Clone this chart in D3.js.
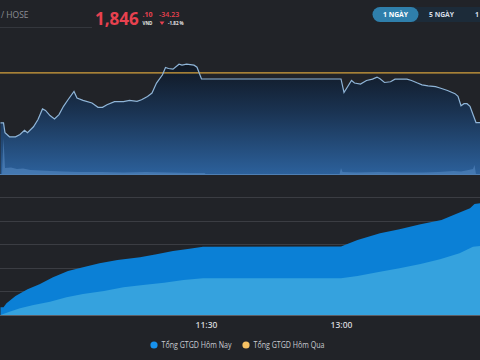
<!DOCTYPE html>
<html><head><meta charset="utf-8">
<script src="https://cdn.jsdelivr.net/npm/d3@7"></script>
<style>
html,body{margin:0;padding:0;background:#212328;}
svg{display:block;font-family:"Open Sans","Noto Sans",sans-serif;}
</style></head>
<body>
<svg id="chart" width="480" height="360"></svg>
<script>
// ---------- DATA ----------
const exchange = "/ HOSE";
const lastPrice = "1,846";
const lastDecimals = ".10";
const currency = "VND";
const changeText = "-34.23";
const changePctText = "-1.82 %";
const prevClose = 1880.33;
const rangeButtons = ["1 NGÀY", "5 NGÀY", "1 THÁNG"];
const timeTicks = ["11:30", "13:00"];
const legendLabels = ["Tổng GTGD Hôm Nay", "Tổng GTGD Hôm Qua"];

const priceTimes = ["09:13","09:15","09:16","09:19","09:23","09:26","09:29","09:31","09:35","09:38","09:41","09:43","09:46","09:49","09:52","09:55","09:58","10:02","10:04","10:08","10:14","10:18","10:21","10:24","10:29","10:35","10:39","10:44","10:47","10:51","10:54","10:57","11:01","11:03","11:05","11:08","11:12","11:14","11:17","11:22","11:24","11:27","11:30","13:00","13:02","13:07","13:09","13:13","13:17","13:21","13:24","13:26","13:29","13:33","13:36","13:44","13:47","13:51","13:54","13:58","14:03","14:06","14:11","14:16","14:18","14:20","14:22","14:24","14:26","14:28","14:30","14:33"];
const priceValues = [1845.9,1845.9,1839.1,1836.3,1836.3,1837.9,1840.8,1839.1,1843.2,1848.2,1855.5,1854.5,1850.9,1848.6,1851.6,1857.3,1861.8,1867.5,1863.0,1861.4,1859.6,1856.6,1856.6,1858.4,1860.5,1860.5,1861.4,1860.7,1861.8,1864.1,1866.4,1873.3,1879.0,1884.0,1883.3,1882.9,1886.3,1885.6,1886.3,1885.6,1884.2,1876.2,1876.1,1876.1,1866.8,1875.1,1873.3,1872.6,1875.1,1876.0,1877.4,1876.2,1873.7,1874.2,1876.0,1876.0,1875.1,1873.3,1872.1,1871.4,1870.8,1869.9,1868.2,1866.0,1864.1,1857.7,1859.1,1859.1,1857.3,1851.6,1846.1,1846.1];

const volumeTimes = ["09:13","09:14","09:15","09:16","09:20","09:24","09:28","09:33","09:40","09:47","09:55","10:05","10:20","10:35","10:50","11:05","11:20","11:29","11:30","12:59","13:00","13:01","13:10","13:25","13:40","13:55","14:05","14:15","14:20","14:25","14:28","14:29","14:30","14:33"];
const volumeValues = [0.8,0.8,37,7,7.5,6,6.5,5,4.5,4,3.5,3,3,2.5,3,2.5,2,2,0.8,0.8,7,3,2.5,3,2.5,2.5,3,4,3.5,5,6,10,0.8,0.8];

const homNayTimes = ["09:13","09:15","09:17","09:23","09:31","09:39","09:48","09:58","10:08","10:19","10:31","10:46","10:57","11:08","11:19","11:28","11:30","13:00","13:11","13:26","13:39","13:53","14:07","14:15","14:26","14:29","14:33"];
const homNayValues = [1630,1630,2480,4030,5450,6500,7990,9320,10110,10950,11650,12220,12860,13560,14050,14470,14470,14500,15890,17310,18160,19220,20130,21190,22610,23520,23670];

const phanTimes = ["09:13","09:19","09:26","09:35","09:46","09:57","10:08","10:22","10:35","10:48","11:02","11:15","11:28","11:30","13:00","13:11","13:26","13:39","13:53","14:06","14:19","14:28","14:33"];
const phanValues = [0,700,1420,2120,2820,3750,4450,5090,5870,6360,6840,7420,7780,7780,7780,8260,9170,9890,10810,11800,13070,14470,14620];

const gridValues = [5000, 10000, 15000, 20000, 25000];

// ---------- HELPERS ----------
const parseT = d3.timeParse("%H:%M");
const svg = d3.select("#chart");
const W = 480;

const x = d3.scaleTime()
  .domain([new Date(1900,0,1,9,12,40), new Date(1900,0,1,14,32,40)])
  .range([0, W]);

const yPrice = d3.scaleLinear().domain([1810, 1890]).range([175, 58.8]);
const yVol = d3.scaleLinear().domain([0, 40]).range([175, 135]);
const yVal = d3.scaleLinear().domain([0, 25000]).range([315, 197]);

// ---------- HEADER ----------
svg.append("text").attr("x", 1).attr("y", 18).attr("fill", "#8b8e95")
  .attr("font-size", 8.5).text(exchange);
svg.append("line").attr("x1", 0).attr("x2", 92).attr("y1", 27.5).attr("y2", 27.5)
  .attr("stroke", "#34373d").attr("stroke-width", 1);

svg.append("text").attr("x", 95).attr("y", 25).attr("fill", "#e8414f")
  .attr("font-size", 17).attr("font-weight", 700).text(lastPrice);
svg.append("text").attr("x", 142.5).attr("y", 17).attr("fill", "#e8414f")
  .attr("font-size", 7).attr("font-weight", 700).text(lastDecimals);
svg.append("text").attr("x", 142.5).attr("y", 24.5).attr("fill", "#e6e6e6")
  .attr("font-size", 4.5).attr("font-weight", 700).text(currency);
svg.append("text").attr("x", 159).attr("y", 17).attr("fill", "#e8414f")
  .attr("font-size", 7).attr("font-weight", 600).text(changeText);
svg.append("path").attr("d", "M159.5,21.5 L164.5,21.5 L162,25 Z").attr("fill", "#e8414f");
svg.append("text").attr("x", 168).attr("y", 25).attr("fill", "#e6e6e6")
  .attr("font-size", 4.5).attr("font-weight", 700).text(changePctText);

// range buttons
svg.append("rect").attr("x", 372.5).attr("y", 7).attr("width", 130).attr("height", 15)
  .attr("rx", 7.5).attr("fill", "#1c2b39");
svg.append("rect").attr("x", 372.5).attr("y", 7).attr("width", 46).attr("height", 15)
  .attr("rx", 7.5).attr("fill", "#2f7fab");
const btnX = [395.5, 441.5, 490];
rangeButtons.forEach((t, i) => {
  svg.append("text").attr("x", btnX[i]).attr("y", 17.3).attr("text-anchor", "middle")
    .attr("fill", i === 0 ? "#ffffff" : "#d6dde6").attr("font-size", 6.8)
    .attr("font-weight", 700).text(t);
});

// ---------- PRICE CHART ----------
const defs = svg.append("defs");
const grad = defs.append("linearGradient").attr("id", "pg")
  .attr("gradientUnits", "userSpaceOnUse").attr("x1", 0).attr("x2", 0).attr("y1", 60).attr("y2", 175);
grad.append("stop").attr("offset", 0).attr("stop-color", "#0f151e");
grad.append("stop").attr("offset", 0.45).attr("stop-color", "#1a3352");
grad.append("stop").attr("offset", 1).attr("stop-color", "#2c619c");

const priceData = priceTimes.map((t, i) => ({ t: parseT(t), v: priceValues[i] }));
svg.append("path").datum(priceData)
  .attr("d", d3.area().x(d => x(d.t)).y0(175).y1(d => yPrice(d.v)))
  .attr("fill", "url(#pg)");

const volData = volumeTimes.map((t, i) => ({ t: parseT(t), v: volumeValues[i] }));
svg.append("path").datum(volData)
  .attr("d", d3.area().x(d => x(d.t)).y0(yVol(0)).y1(d => yVol(d.v)))
  .attr("fill", "#5a8cc4").attr("fill-opacity", 0.55);
svg.append("line").attr("x1", 0).attr("x2", W).attr("y1", 174.5).attr("y2", 174.5)
  .attr("stroke", "#4f7fb3").attr("stroke-width", 1);

svg.append("line").attr("x1", 0).attr("x2", W)
  .attr("y1", yPrice(prevClose)).attr("y2", yPrice(prevClose))
  .attr("stroke", "#d5a23d").attr("stroke-width", 1.3);

svg.append("path").datum(priceData)
  .attr("d", d3.line().x(d => x(d.t)).y(d => yPrice(d.v)))
  .attr("fill", "none").attr("stroke", "#8fb5d8").attr("stroke-width", 1.2);

// ---------- VALUE CHART ----------
svg.append("g").selectAll("line").data(gridValues).join("line")
  .attr("x1", 0).attr("x2", W)
  .attr("y1", d => Math.round(yVal(d)) + 0.5).attr("y2", d => Math.round(yVal(d)) + 0.5)
  .attr("stroke", "#3b3d43").attr("stroke-width", 1);

const homNay = homNayTimes.map((t, i) => ({ t: parseT(t), v: homNayValues[i] }));
const phan = phanTimes.map((t, i) => ({ t: parseT(t), v: phanValues[i] }));
const valArea = d3.area().x(d => x(d.t)).y0(yVal(0)).y1(d => yVal(d.v));
svg.append("path").datum(homNay).attr("d", valArea).attr("fill", "#0b80d6");
svg.append("path").datum(phan).attr("d", valArea).attr("fill", "#35a2de");

svg.append("line").attr("x1", 0).attr("x2", W).attr("y1", 315.5).attr("y2", 315.5)
  .attr("stroke", "#5b5e66").attr("stroke-width", 1);

// x axis
const xAxis = d3.axisBottom(x)
  .tickValues(timeTicks.map(parseT))
  .tickFormat(d3.timeFormat("%H:%M"))
  .tickSize(0).tickPadding(7);
const gx = svg.append("g").attr("transform", "translate(0,315)").call(xAxis);
gx.select(".domain").remove();
gx.selectAll("text").attr("fill", "#d2d4d8").attr("font-size", 8.5)
  .attr("font-weight", 600).attr("font-family", "'Open Sans',sans-serif");

// legend
const legendColors = ["#1792ee", "#f6c163"];
const legX = [154, 246];
const legLen = [70, 71];
legendLabels.forEach((l, i) => {
  svg.append("circle").attr("cx", legX[i]).attr("cy", 345).attr("r", 3.6).attr("fill", legendColors[i]);
  svg.append("text").attr("x", legX[i] + 7.5).attr("y", 348).attr("fill", "#c9ccd2")
    .attr("font-size", 8.2).attr("textLength", legLen[i]).attr("lengthAdjust", "spacingAndGlyphs")
    .text(l);
});
</script>
</body></html>
